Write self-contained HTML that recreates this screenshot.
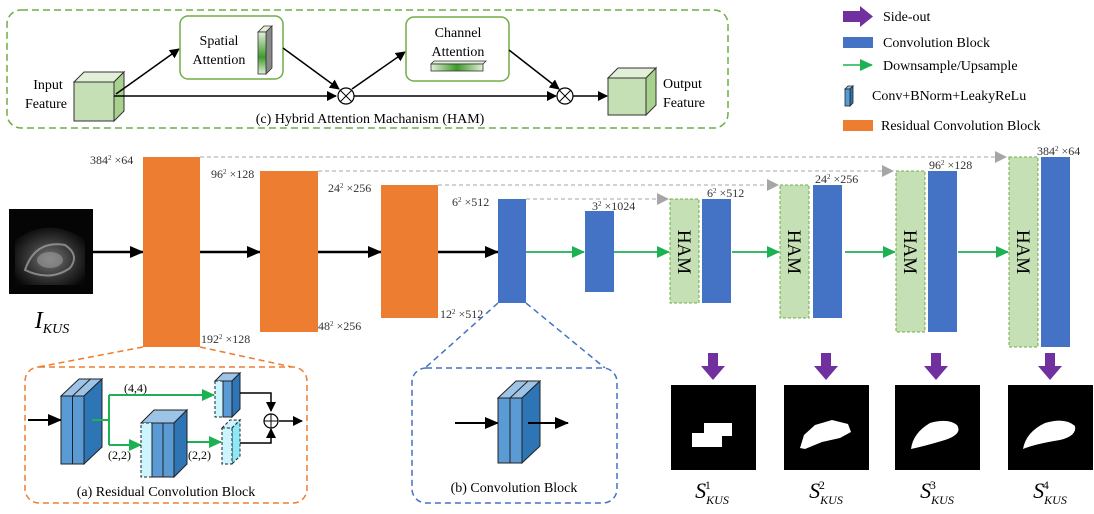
<!DOCTYPE html>
<html><head><meta charset="utf-8"><style>
html,body{margin:0;padding:0;background:#fff;}
svg{display:block;font-family:"Liberation Serif",serif;}
</style></head><body>
<svg width="1094" height="514" viewBox="0 0 1094 514" xmlns="http://www.w3.org/2000/svg">
<defs>
<marker id="ab" markerWidth="10" markerHeight="10" refX="9" refY="5" orient="auto" markerUnits="userSpaceOnUse"><path d="M0,0 L10,5 L0,10 Z" fill="#000"/></marker>
<marker id="ab2" markerWidth="14" markerHeight="12" refX="13" refY="6" orient="auto" markerUnits="userSpaceOnUse"><path d="M0,0 L14,6 L0,12 Z" fill="#000"/></marker>
<marker id="ag" markerWidth="13" markerHeight="12" refX="12" refY="6" orient="auto" markerUnits="userSpaceOnUse"><path d="M0,0 L13,6 L0,12 Z" fill="#1db153"/></marker>
<marker id="agr" markerWidth="12" markerHeight="12" refX="11" refY="6" orient="auto" markerUnits="userSpaceOnUse"><path d="M0,0 L12,6 L0,12 Z" fill="#a6a6a6"/></marker>
<linearGradient id="gv" x1="0" y1="0" x2="0" y2="1"><stop offset="0" stop-color="#e2f0d9"/><stop offset="0.6" stop-color="#3e9a2c"/><stop offset="1" stop-color="#e2f0d9"/></linearGradient>
<linearGradient id="gh" x1="0" y1="0" x2="1" y2="0"><stop offset="0" stop-color="#e2f0d9"/><stop offset="0.5" stop-color="#3e9a2c"/><stop offset="1" stop-color="#e2f0d9"/></linearGradient>
<radialGradient id="us" cx="0.5" cy="0.55" r="0.6"><stop offset="0" stop-color="#777"/><stop offset="0.5" stop-color="#3a3a3a"/><stop offset="1" stop-color="#080808"/></radialGradient>
</defs>

<!-- HAM box -->
<rect x="7" y="10" width="721" height="118" rx="14" fill="none" stroke="#70ad47" stroke-width="1.5" stroke-dasharray="7,4"/>
<polygon points="74,82 84,72 124,72 114,82" fill="#e2f0d9" stroke="#333" stroke-width="1"/>
<polygon points="114,82 124,72 124,111 114,121" fill="#a9d18e" stroke="#333" stroke-width="1"/>
<rect x="74" y="82" width="40" height="39" fill="#c5e0b4" stroke="#333" stroke-width="1"/>
<text x="48" y="89" font-size="14" text-anchor="middle">Input</text>
<text x="46" y="108" font-size="14" text-anchor="middle">Feature</text>
<line x1="114" y1="96" x2="336" y2="96" stroke="#000" stroke-width="1.5" marker-end="url(#ab)"/>
<line x1="116" y1="94" x2="179" y2="49" stroke="#000" stroke-width="1.5" marker-end="url(#ab)"/>
<rect x="180" y="16" width="103" height="63" rx="8" fill="#fff" stroke="#70ad47" stroke-width="1.5"/>
<text x="219" y="45" font-size="14" text-anchor="middle">Spatial</text>
<text x="219" y="64" font-size="14" text-anchor="middle">Attention</text>
<polygon points="258,32 264,26 272,26 266,32" fill="#e2f0d9" stroke="#333" stroke-width="0.8"/>
<polygon points="266,32 272,26 272,68 266,74" fill="#888" stroke="#333" stroke-width="0.8"/>
<rect x="258" y="32" width="8" height="42" fill="url(#gv)" stroke="#333" stroke-width="0.8"/>
<line x1="283" y1="48" x2="339" y2="89" stroke="#000" stroke-width="1.5" marker-end="url(#ab)"/>
<circle cx="346" cy="96" r="8" fill="#fff" stroke="#000" stroke-width="1.2"/>
<line x1="340" y1="90" x2="352" y2="102" stroke="#000"/><line x1="352" y1="90" x2="340" y2="102" stroke="#000"/>
<line x1="354" y1="96" x2="556" y2="96" stroke="#000" stroke-width="1.5" marker-end="url(#ab)"/>
<line x1="352" y1="89" x2="405" y2="52" stroke="#000" stroke-width="1.5" marker-end="url(#ab)"/>
<rect x="406" y="17" width="103" height="64" rx="8" fill="#fff" stroke="#70ad47" stroke-width="1.5"/>
<text x="458" y="37" font-size="14" text-anchor="middle">Channel</text>
<text x="458" y="56" font-size="14" text-anchor="middle">Attention</text>
<polygon points="431,64 434,61 486,61 483,64" fill="#e2f0d9" stroke="#333" stroke-width="0.8"/>
<rect x="431" y="64" width="52" height="7" fill="url(#gh)" stroke="#333" stroke-width="0.8"/>
<line x1="509" y1="50" x2="559" y2="89" stroke="#000" stroke-width="1.5" marker-end="url(#ab)"/>
<circle cx="565" cy="96" r="8" fill="#fff" stroke="#000" stroke-width="1.2"/>
<line x1="559" y1="90" x2="571" y2="102" stroke="#000"/><line x1="571" y1="90" x2="559" y2="102" stroke="#000"/>
<line x1="573" y1="96" x2="607" y2="96" stroke="#000" stroke-width="1.5" marker-end="url(#ab)"/>
<polygon points="608,78 618,68 656,68 646,78" fill="#e2f0d9" stroke="#333" stroke-width="1"/>
<polygon points="646,78 656,68 656,105 646,115" fill="#a9d18e" stroke="#333" stroke-width="1"/>
<rect x="608" y="78" width="38" height="37" fill="#c5e0b4" stroke="#333" stroke-width="1"/>
<text x="663" y="88" font-size="14">Output</text>
<text x="663" y="107" font-size="14">Feature</text>
<text x="370" y="123" font-size="14" text-anchor="middle">(c)  Hybrid Attention Machanism (HAM)</text>

<!-- legend -->
<polygon points="843,11 860,11 860,6 873,16.5 860,27 860,22 843,22" fill="#7030a0"/>
<text x="883" y="21" font-size="14">Side-out</text>
<rect x="843" y="37" width="30" height="11" fill="#4472c4"/>
<text x="883" y="47" font-size="14">Convolution Block</text>
<line x1="843" y1="65" x2="872" y2="65" stroke="#1db153" stroke-width="1.5" marker-end="url(#ag)"/>
<text x="883" y="70" font-size="14">Downsample/Upsample</text>
<polygon points="845,89 848,86 853,86 850,89" fill="#9dc3e6" stroke="#222" stroke-width="0.8"/>
<polygon points="850,89 853,86 853,103 850,106" fill="#2e75b6" stroke="#222" stroke-width="0.8"/>
<rect x="845" y="89" width="5" height="17" fill="#5b9bd5" stroke="#222" stroke-width="0.8"/>
<text x="872" y="100" font-size="14">Conv+BNorm+LeakyReLu</text>
<rect x="843" y="120" width="30" height="11" fill="#ed7d31"/>
<text x="881" y="130" font-size="14">Residual Convolution Block</text>

<!-- skip lines -->
<g stroke="#a6a6a6" stroke-width="1" stroke-dasharray="4,3" fill="none">
<line x1="200" y1="157" x2="1006" y2="157" marker-end="url(#agr)"/>
<line x1="318" y1="171" x2="893" y2="171" marker-end="url(#agr)"/>
<line x1="438" y1="185" x2="778" y2="185" marker-end="url(#agr)"/>
<line x1="526" y1="199" x2="668" y2="199" marker-end="url(#agr)"/>
</g>

<!-- ultrasound image -->
<rect x="9" y="209" width="84" height="85" fill="#050505"/>
<path d="M15,240 Q50,215 85,240 L85,285 L15,285 Z" fill="url(#us)"/>
<path d="M25,270 Q35,240 65,245 Q80,255 70,268 Q50,282 25,270 Z" fill="none" stroke="#aaa" stroke-width="2" opacity="0.7"/>
<ellipse cx="50" cy="260" rx="13" ry="8" fill="#999" opacity="0.6"/>
<text x="52" y="328" font-size="24" font-style="italic" text-anchor="middle">I<tspan font-size="14" dy="5">KUS</tspan></text>

<!-- encoder -->
<g stroke="#000" stroke-width="2.5">
<line x1="93" y1="252" x2="143" y2="252" marker-end="url(#ab2)"/>
<line x1="200" y1="252" x2="260" y2="252" marker-end="url(#ab2)"/>
<line x1="318" y1="252" x2="381" y2="252" marker-end="url(#ab2)"/>
<line x1="438" y1="252" x2="498" y2="252" marker-end="url(#ab2)"/>
</g>
<rect x="143" y="157" width="57" height="190" fill="#ed7d31"/>
<rect x="260" y="171" width="58" height="161" fill="#ed7d31"/>
<rect x="381" y="185" width="57" height="133" fill="#ed7d31"/>
<rect x="498" y="199" width="28" height="104" fill="#4472c4"/>
<g font-size="12" fill="#333">
<text x="90" y="164">384<tspan font-size="7" dy="-4">2</tspan><tspan dy="4"> ×64</tspan></text>
<text x="201" y="343">192<tspan font-size="7" dy="-4">2</tspan><tspan dy="4"> ×128</tspan></text>
<text x="211" y="178">96<tspan font-size="7" dy="-4">2</tspan><tspan dy="4"> ×128</tspan></text>
<text x="318" y="330">48<tspan font-size="7" dy="-4">2</tspan><tspan dy="4"> ×256</tspan></text>
<text x="328" y="192">24<tspan font-size="7" dy="-4">2</tspan><tspan dy="4"> ×256</tspan></text>
<text x="440" y="318">12<tspan font-size="7" dy="-4">2</tspan><tspan dy="4"> ×512</tspan></text>
<text x="452" y="206">6<tspan font-size="7" dy="-4">2</tspan><tspan dy="4"> ×512</tspan></text>
<text x="592" y="210">3<tspan font-size="7" dy="-4">2</tspan><tspan dy="4"> ×1024</tspan></text>
<text x="707" y="197">6<tspan font-size="7" dy="-4">2</tspan><tspan dy="4"> ×512</tspan></text>
<text x="815" y="183">24<tspan font-size="7" dy="-4">2</tspan><tspan dy="4"> ×256</tspan></text>
<text x="929" y="169">96<tspan font-size="7" dy="-4">2</tspan><tspan dy="4"> ×128</tspan></text>
<text x="1037" y="155">384<tspan font-size="7" dy="-4">2</tspan><tspan dy="4"> ×64</tspan></text>
</g>

<!-- decoder -->
<g stroke="#1db153" stroke-width="1.8">
<line x1="526" y1="252" x2="584" y2="252" marker-end="url(#ag)"/>
<line x1="614" y1="252" x2="669" y2="252" marker-end="url(#ag)"/>
<line x1="732" y1="252" x2="779" y2="252" marker-end="url(#ag)"/>
<line x1="845" y1="252" x2="895" y2="252" marker-end="url(#ag)"/>
<line x1="958" y1="252" x2="1008" y2="252" marker-end="url(#ag)"/>
</g>
<rect x="585" y="211" width="29" height="81" fill="#4472c4"/>
<g fill="#c5e0b4" stroke="#70ad47" stroke-dasharray="3,2" stroke-width="1">
<rect x="670" y="199" width="29" height="104"/>
<rect x="780" y="185" width="29" height="133"/>
<rect x="896" y="171" width="29" height="161"/>
<rect x="1009" y="157" width="29" height="190"/>
</g>
<rect x="702" y="199" width="29" height="104" fill="#4472c4"/>
<rect x="813" y="185" width="29" height="133" fill="#4472c4"/>
<rect x="928" y="171" width="29" height="161" fill="#4472c4"/>
<rect x="1041" y="157" width="29" height="190" fill="#4472c4"/>
<g font-size="19" text-anchor="middle">
<text transform="translate(678,252) rotate(90)">HAM</text>
<text transform="translate(788,252) rotate(90)">HAM</text>
<text transform="translate(904,252) rotate(90)">HAM</text>
<text transform="translate(1017,252) rotate(90)">HAM</text>
</g>

<!-- side-out arrows -->
<g fill="#7030a0">
<polygon points="708,353 718,353 718,366 725,366 713,380 701,366 708,366"/>
<polygon points="821,353 831,353 831,366 838,366 826,380 814,366 821,366"/>
<polygon points="931,353 941,353 941,366 948,366 936,380 924,366 931,366"/>
<polygon points="1045,353 1055,353 1055,366 1062,366 1050,380 1038,366 1045,366"/>
</g>
<rect x="671" y="385" width="85" height="85" fill="#000"/>
<path d="M692,433 L704,433 L704,423 L732,423 L732,436 L722,436 L722,447 L692,447 Z" fill="#fff"/>
<rect x="784" y="385" width="85" height="85" fill="#000"/>
<path d="M800,448 L804,435 L815,425 L832,420 L848,424 L851,432 L840,438 L822,442 L805,449 Z" fill="#fff"/>
<rect x="895" y="385" width="85" height="85" fill="#000"/>
<path d="M911,449 Q913,433 930,423 Q948,418 957,425 Q963,434 945,440 Q925,446 911,449 Z" fill="#fff"/>
<rect x="1008" y="385" width="85" height="85" fill="#000"/>
<path d="M1023,449 Q1026,432 1045,423 Q1065,417 1075,426 Q1077,436 1060,440 Q1035,444 1023,449 Z" fill="#fff"/>
<g font-size="22" font-style="italic" text-anchor="middle">
<text x="712" y="498">S<tspan font-size="12" dy="6">KUS</tspan><tspan font-size="12" font-style="normal" dx="-24" dy="-15">1</tspan></text>
<text x="826" y="498">S<tspan font-size="12" dy="6">KUS</tspan><tspan font-size="12" font-style="normal" dx="-24" dy="-15">2</tspan></text>
<text x="937" y="498">S<tspan font-size="12" dy="6">KUS</tspan><tspan font-size="12" font-style="normal" dx="-24" dy="-15">3</tspan></text>
<text x="1050" y="498">S<tspan font-size="12" dy="6">KUS</tspan><tspan font-size="12" font-style="normal" dx="-24" dy="-15">4</tspan></text>
</g>

<!-- zoom connectors -->
<line x1="143" y1="347" x2="38" y2="367" stroke="#ed7d31" stroke-width="1.5" stroke-dasharray="6,4"/>
<line x1="200" y1="347" x2="292" y2="367" stroke="#ed7d31" stroke-width="1.5" stroke-dasharray="6,4"/>
<line x1="498" y1="303" x2="425" y2="368" stroke="#4472c4" stroke-width="1.5" stroke-dasharray="6,4"/>
<line x1="526" y1="303" x2="605" y2="368" stroke="#4472c4" stroke-width="1.5" stroke-dasharray="6,4"/>

<!-- residual block -->
<rect x="25" y="367" width="282" height="136" rx="14" fill="#fff" stroke="#ed7d31" stroke-width="1.5" stroke-dasharray="6,4"/>
<line x1="28" y1="420" x2="61" y2="420" stroke="#000" stroke-width="2" marker-end="url(#ab2)"/>
<polygon points="61,396 79,379 102,379 84,396" fill="#9dc3e6" stroke="#222"/>
<polygon points="84,396 102,379 102,447 84,464" fill="#2e75b6" stroke="#222"/>
<rect x="61" y="396" width="11.5" height="68" fill="#5b9bd5" stroke="#222"/>
<rect x="72.5" y="396" width="11.5" height="68" fill="#5b9bd5" stroke="#222"/>
<line x1="72.5" y1="396" x2="90.5" y2="379" stroke="#222"/>
<g stroke="#1db153" stroke-width="2" fill="none">
<polyline points="92,420 109,420"/>
<polyline points="109,395 109,445"/>
<line x1="109" y1="395" x2="214" y2="395" marker-end="url(#ag)"/>
<line x1="109" y1="445" x2="141" y2="445" marker-end="url(#ag)"/>
<line x1="180" y1="442" x2="221" y2="442" marker-end="url(#ag)"/>
</g>
<polygon points="141,423 154,410 187,410 174,423" fill="#9dc3e6" stroke="#222"/>
<polygon points="174,423 187,410 187,464 174,477" fill="#2e75b6" stroke="#222"/>
<rect x="141" y="423" width="11" height="54" fill="#ccf5ff" stroke="#222" stroke-dasharray="3,2"/>
<rect x="152" y="423" width="11" height="54" fill="#5b9bd5" stroke="#222"/>
<rect x="163" y="423" width="11" height="54" fill="#5b9bd5" stroke="#222"/>
<polygon points="215,381 223,373 240,373 232,381" fill="#9dc3e6" stroke="#222"/>
<polygon points="232,381 240,373 240,409 232,417" fill="#2e75b6" stroke="#222"/>
<rect x="215" y="381" width="8" height="36" fill="#ccf5ff" stroke="#222" stroke-dasharray="3,2"/>
<rect x="223" y="381" width="9" height="36" fill="#5b9bd5" stroke="#222"/>
<polygon points="222,428 230,420 240,420 232,428" fill="#ccf5ff" stroke="#222" stroke-dasharray="3,2"/>
<polygon points="232,428 240,420 240,456 232,464" fill="#8ee8f5" stroke="#222" stroke-dasharray="3,2"/>
<rect x="222" y="428" width="10" height="36" fill="#ccf5ff" stroke="#222" stroke-dasharray="3,2"/>
<g stroke="#000" stroke-width="1.5" fill="none">
<polyline points="240,393 271,393 271,411" marker-end="url(#ab)"/>
<polyline points="240,443 271,443 271,429" marker-end="url(#ab)"/>
<line x1="279" y1="421" x2="302" y2="421" marker-end="url(#ab)"/>
</g>
<circle cx="271" cy="421" r="7" fill="#fff" stroke="#000" stroke-width="1.2"/>
<line x1="264" y1="421" x2="278" y2="421" stroke="#000"/><line x1="271" y1="414" x2="271" y2="428" stroke="#000"/>
<g font-size="12">
<text x="124" y="392">(4,4)</text>
<text x="108" y="459">(2,2)</text>
<text x="188" y="459">(2,2)</text>
</g>
<text x="166" y="496" font-size="14" text-anchor="middle">(a)  Residual Convolution Block</text>

<!-- conv block -->
<rect x="412" y="368" width="205" height="135" rx="14" fill="#fff" stroke="#4472c4" stroke-width="1.5" stroke-dasharray="6,4"/>
<line x1="455" y1="423" x2="498" y2="423" stroke="#000" stroke-width="2" marker-end="url(#ab2)"/>
<polygon points="498,398 516,381 540,381 522,398" fill="#9dc3e6" stroke="#222"/>
<polygon points="522,398 540,381 540,446 522,463" fill="#2e75b6" stroke="#222"/>
<rect x="498" y="398" width="12" height="65" fill="#5b9bd5" stroke="#222"/>
<rect x="510" y="398" width="12" height="65" fill="#5b9bd5" stroke="#222"/>
<line x1="510" y1="398" x2="528" y2="381" stroke="#222"/>
<line x1="528" y1="423" x2="568" y2="423" stroke="#000" stroke-width="2" marker-end="url(#ab2)"/>
<text x="514" y="492" font-size="14" text-anchor="middle">(b)  Convolution Block</text>
</svg>
</body></html>
